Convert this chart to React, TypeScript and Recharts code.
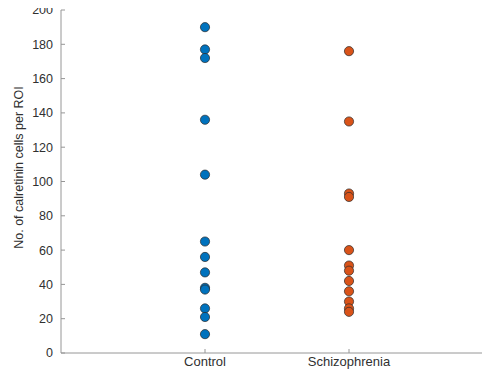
import React from 'react';
import { ScatterChart, Scatter, XAxis, YAxis } from 'recharts';

const categories = ['Control', 'Schizophrenia'];
const controlValues = [190, 177, 172, 136, 104, 65, 56, 47, 38, 37, 26, 21, 11];
const schizophreniaValues = [176, 135, 93, 91, 60, 51, 48, 42, 36, 30, 26, 24];
const yTicks = [0, 20, 40, 60, 80, 100, 120, 140, 160, 180, 200];
const xTicks = [1, 2];
const yLabel = 'No. of calretinin cells per ROI';

const controlData = controlValues.map((v) => ({ x: 1, y: v }));
const schizophreniaData = schizophreniaValues.map((v) => ({ x: 2, y: v }));

const FONT = 'Arial, "Liberation Sans", Helvetica, sans-serif';
const AXIS_COLOR = '#969696';
const TEXT_COLOR = '#303030';

const makeDot = (fill: string) => (props: any) => (
  <circle cx={props.cx} cy={props.cy} r={4.6} fill={fill} stroke="#2a2a2a" strokeWidth={0.7} />
);

const YLabel = (props: any) => {
  const vb = props.viewBox || {};
  const cx = vb.x + 19;
  const cy = vb.y + vb.height / 2 - 14;
  return (
    <text
      x={cx}
      y={cy}
      transform={`rotate(-90, ${cx}, ${cy})`}
      textAnchor="middle"
      dominantBaseline="central"
      fontSize={12.5}
      fontFamily={FONT}
      fill={TEXT_COLOR}
    >
      {yLabel}
    </text>
  );
};

export default function App() {
  return (
    <div style={{ width: 495, height: 381, marginLeft: -8, marginTop: -8 }}>
      <ScatterChart width={495} height={381} margin={{ top: 10, right: 2, bottom: 3, left: 0 }}>
        <XAxis
          type="number"
          dataKey="x"
          domain={[0, 3]}
          ticks={xTicks}
          tickFormatter={(v: number) => categories[v - 1] ?? ''}
          height={25}
          tickSize={-4}
          tickMargin={8}
          axisLine={{ stroke: AXIS_COLOR }}
          tickLine={{ stroke: AXIS_COLOR }}
          tick={{ fontSize: 13, fontFamily: FONT, fill: TEXT_COLOR }}
          allowDecimals={false}
        />
        <YAxis
          type="number"
          dataKey="y"
          domain={[0, 200]}
          ticks={yTicks}
          width={61}
          tickSize={-4}
          tickMargin={12}
          axisLine={{ stroke: AXIS_COLOR }}
          tickLine={{ stroke: AXIS_COLOR }}
          tick={{ fontSize: 12.5, fontFamily: FONT, fill: TEXT_COLOR }}
          label={<YLabel />}
          interval={0}
        />
        <Scatter
          name="Control"
          data={controlData}
          isAnimationActive={false}
          shape={makeDot('#0072BD')}
        />
        <Scatter
          name="Schizophrenia"
          data={schizophreniaData}
          isAnimationActive={false}
          shape={makeDot('#D95319')}
        />
      </ScatterChart>
    </div>
  );
}
